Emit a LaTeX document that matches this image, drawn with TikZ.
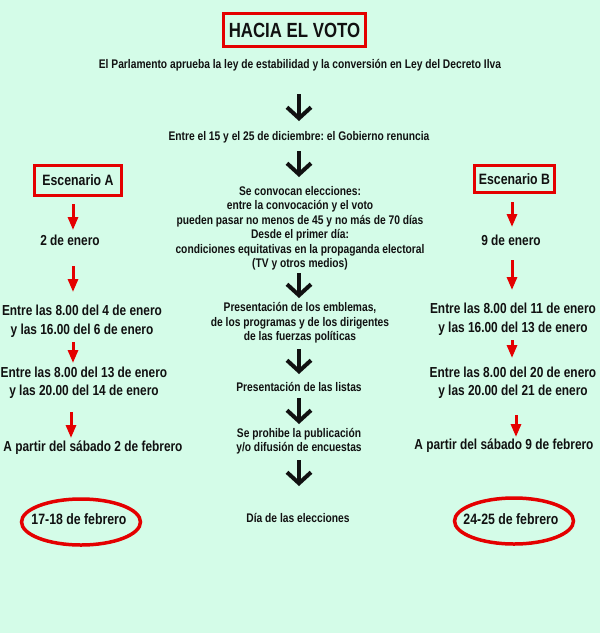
\documentclass[tikz,border=0pt]{standalone}
\usepackage{fontspec}
\setmainfont{Liberation Sans}[FakeStretch=0.82]
\usetikzlibrary{arrows.meta,shapes.geometric}
\definecolor{bg}{RGB}{212,252,232}
\definecolor{rd}{RGB}{228,0,0}
\definecolor{ink}{RGB}{17,17,17}
\frenchspacing
\tikzset{
  ctext/.style={font=\fontsize{12.5}{14.5}\selectfont\bfseries, align=center, inner sep=0pt, text=ink},
  stext/.style={font=\fontsize{14.5}{18.5}\selectfont\bfseries, align=center, inner sep=0pt, text=ink},
  blackarrow/.style={ink, line width=4pt, -{Straight Barb[length=11pt,width=24pt]}},
  redarrow/.style={rd, line width=3pt, -{Triangle[length=13pt,width=10pt]}},
  scenbox/.style={draw=rd, line width=3pt, inner sep=0pt, font=\fontsize{15}{17}\selectfont\bfseries, text=ink},
  dateell/.style={ellipse, draw=rd, line width=3.5pt, inner sep=0pt, minimum width=119pt, minimum height=46pt},
  datetext/.style={font=\fontsize{15}{17}\selectfont\bfseries, inner sep=0pt, text=ink}
}
\begin{document}
\begin{tikzpicture}[x=1pt,y=-1pt]
\fill[bg] (0,0) rectangle (600,633);
\useasboundingbox (0,0) rectangle (600,633);

% title
\node[draw=rd, line width=3pt, minimum width=142pt, minimum height=33pt, inner sep=0pt,
      font=\fontsize{20.5}{22}\selectfont\bfseries, text=ink] (title) at (294.5,30) {HACIA EL VOTO};

% center column
\node[ctext] (c1) at (300,65) {El Parlamento aprueba la ley de estabilidad y la conversión en Ley del Decreto Ilva};
\node[ctext] (c2) at (299,137) {Entre el 15 y el 25 de diciembre: el Gobierno renuncia};
\node[ctext] (c3) at (300,228.5) {Se convocan elecciones:\\entre la convocación y el voto\\pueden pasar no menos de 45 y no más de 70 días\\Desde el primer día:\\condiciones equitativas en la propaganda electoral\\(TV y otros medios)};
\node[ctext] (c4) at (300,323) {Presentación de los emblemas,\\de los programas y de los dirigentes\\de las fuerzas políticas};
\node[ctext] (c5) at (299,387) {Presentación de las listas};
\node[ctext] (c6) at (299,441) {Se prohibe la publicación\\y/o difusión de encuestas};
\node[ctext] (c7) at (298,518) {Día de las elecciones};

\coordinate (b1s) at (299,94);  \coordinate (b1e) at (299,121);
\coordinate (b2s) at (299,151); \coordinate (b2e) at (299,177);
\coordinate (b3s) at (299,273); \coordinate (b3e) at (299,298);
\coordinate (b4s) at (299,349); \coordinate (b4e) at (299,374);
\coordinate (b5s) at (299,398); \coordinate (b5e) at (299,424);
\coordinate (b6s) at (299,460); \coordinate (b6e) at (299,486);
\foreach \i in {1,...,6} {\draw[blackarrow] (b\i s) -- (b\i e);}

% scenario A
\node[scenbox, minimum width=87pt, minimum height=30pt] (scA) at (78,180.5) {Escenario A};
\node[stext] (a1) at (70,240) {2 de enero};
\node[stext] (a2) at (82,321) {Entre las 8.00 del 4 de enero\\y las 16.00 del 6 de enero};
\node[stext] (a3) at (84,382.5) {Entre las 8.00 del 13 de enero\\y las 20.00 del 14 de enero};
\node[stext] (a4) at (93,448) {A partir del sábado 2 de febrero};
\node[dateell] (ea) at (81,522) {};
\node[datetext] (ta) at (79,519) {17-18 de febrero};

\coordinate (r1s) at (73,204); \coordinate (r1e) at (73,230);
\coordinate (r2s) at (73,266); \coordinate (r2e) at (73,292);
\coordinate (r3s) at (73,342); \coordinate (r3e) at (73,363);
\coordinate (r4s) at (71,412); \coordinate (r4e) at (71,438);

% scenario B
\node[scenbox, minimum width=80pt, minimum height=27pt] (scB) at (514.5,179) {Escenario B};
\node[stext] (bb1) at (511,240) {9 de enero};
\node[stext] (bb2) at (513,319) {Entre las 8.00 del 11 de enero\\y las 16.00 del 13 de enero};
\node[stext] (bb3) at (513,382.5) {Entre las 8.00 del 20 de enero\\y las 20.00 del 21 de enero};
\node[stext] (bb4) at (504,446) {A partir del sábado 9 de febrero};
\node[dateell] (eb) at (514,521) {};
\node[datetext] (tb) at (511,519) {24-25 de febrero};

\coordinate (s1s) at (512,202); \coordinate (s1e) at (512,227);
\coordinate (s2s) at (512,260); \coordinate (s2e) at (512,290);
\coordinate (s3s) at (512,340); \coordinate (s3e) at (512,358);
\coordinate (s4s) at (516,415); \coordinate (s4e) at (516,437);

\foreach \i in {1,...,4} {\draw[redarrow] (r\i s) -- (r\i e); \draw[redarrow] (s\i s) -- (s\i e);}
\end{tikzpicture}
\end{document}
